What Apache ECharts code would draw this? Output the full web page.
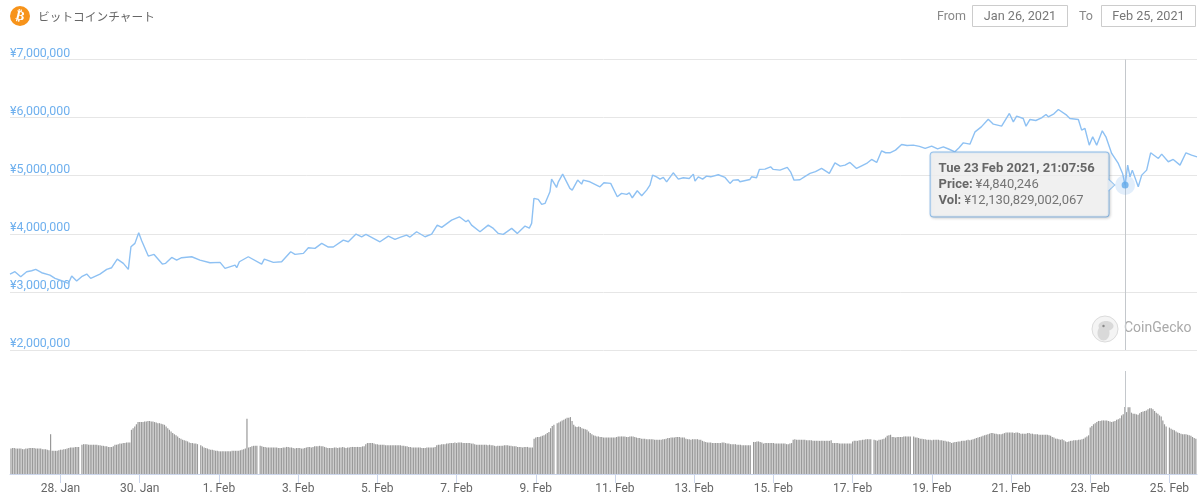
<!DOCTYPE html>
<html><head><meta charset="utf-8">
<style>html,body{margin:0;padding:0;background:#fff}#c{width:1200px;height:502px}</style>
<script src="https://cdn.jsdelivr.net/npm/echarts@6/dist/echarts.min.js"></script>
</head><body><div id="c"></div>
<script>
// hours since 26 Jan 2021 00:00 UTC
const priceHours = [17.4,20.4,23.9,27.5,30.5,33.0,36.6,41.6,44.7,48.7,52.8,54.8,57.8,60.8,63.9,66.3,71.9,76.0,79.0,82.4,86.1,89.1,90.7,93.1,95.4,97.2,101.2,104.7,109.7,111.7,115.4,118.4,121.4,127.5,132.5,138.6,144.7,147.7,153.8,154.8,156.4,161.8,169.9,171.5,177.0,182.0,187.5,190.1,195.2,198.2,202.2,206.3,210.3,213.3,219.4,222.4,227.1,230.5,233.1,241.6,246.7,250.7,
253.7,257.7,259.8,263.8,268.9,272.9,276.3,279.0,285.0,289.7,293.7,295.1,297.1,302.2,307.2,310.3,313.3,316.3,321.4,324.8,329.5,332.1,333.5,334.9,337.5,339.6,341.6,344.6,345.6,348.6,349.7,352.3,355.7,356.7,358.1,361.4,363.8,364.8,368.8,374.9,377.3,381.4,385.4,388.0,391.1,392.7,394.5,397.5,400.2,403.2,405.2,406.8,409.2,411.3,413.3,415.3,419.3,422.4,425.4,429.0,431.5,432.5,434.5,437.1,439.5,442.0,446.6,450.7,453.7,455.7,458.7,459.7,465.8,466.8,469.8,471.5,474.9,478.3,479.9,484.0,488.4,490.4,492.5,
496.1,499.0,502.2,505.5,509.2,513.9,517.3,520.5,523.4,526.4,530.4,533.5,536.5,539.5,542.6,545.6,548.0,550.6,554.0,557.7,561.0,564.8,568.5,572.0,575.9,579.5,583.0,586.5,590.0,592.5,595.1,599.1,602.2,606.0,610.2,613.3,618.3,623.0,625.4,627.4,631.4,633.1,635.5,639.0,642.5,645.2,646.6,650.0,652.7,657.7,659.7,664.8,666.8,668.8,671.4,673.5,675.9,679.3,681.5,685.0,689.0,691.6,693.13,694.7,696.1,697.5,701.1,703.2,706.2,708.6,713.3,715.3,719.3,722.3,726.4,730.0,733.4,736.7];
// thousands of yen
const priceThousands = [3307,3347,3261,3347,3364,3387,3330,3290,3233,3192,3147,3273,3187,3261,3307,3233,3307,3387,3416,3565,3491,3387,3777,3835,4018,3880,3617,3645,3479,3491,3594,3548,3588,3605,3548,3502,3508,3405,3462,3416,3519,3605,3479,3565,3508,3519,3691,3645,3663,3760,3749,3835,3772,3772,3892,3863,3995,3949,3989,3863,3961,3903,
3938,3978,3944,4035,3949,3995,4150,4110,4236,4293,4207,4236,4150,4035,4150,4093,4007,3990,4093,4007,4133,4098,4179,4609,4592,4506,4523,4723,4941,4798,4895,5027,4838,4781,4752,4924,4855,4924,4895,4809,4878,4867,4637,4695,4678,4706,4620,4741,4655,4752,4838,5010,4981,4941,4970,4895,5050,4941,4964,4953,5027,4907,4981,4941,4993,4981,5016,4970,4867,4924,4930,4895,4935,4981,4964,5108,5113,5153,5108,5096,5142,5067,4924,
4930,4985,5039,5070,5125,5039,5222,5165,5182,5228,5125,5170,5211,5280,5228,5429,5395,5394,5440,5538,5520,5526,5505,5470,5509,5462,5497,5455,5411,5480,5566,5543,5755,5840,5973,5887,5853,6071,5927,6025,5985,5853,5968,5950,5996,6054,6013,6065,6140,6042,5985,5968,5784,5813,5526,5670,5526,5773,5670,5383,5211,5039,4840.246,5182,4981,5096,4809,5010,5096,5394,5297,5371,5240,5280,5182,5394,5354,5325];
// hourly traded volume in trillions of yen, one row per day from 26 Jan; null marks a visible gap
const volumeRows = [
[null,null,null,null,null,null,null,null,null,null,null,null,null,null,null,null,null,null,4.6,4.7,4.7,4.6,4.6,4.6],
[4.6,4.5,4.5,4.6,4.6,4.7,4.7,4.7,4.7,4.6,4.6,4.6,4.6,4.5,4.5,4.5,4.4,4.3,7.2,4.2,4.2,4.2,4.2,4.3],
[4.4,4.4,4.5,4.5,4.6,4.7,4.8,4.8,4.8,4.9,4.9,4.9,null,5.3,5.4,5.4,5.4,5.3,5.3,5.3,5.3,5.3,5.3,5.2],
[5.2,5.1,5.1,5.0,5.0,4.9,4.9,4.9,5.0,5.3,5.3,5.4,5.5,5.5,5.6,5.6,5.7,5.7,5.7,8.0,8.3,8.6,9.0,9.4],
[9.4,9.4,9.4,9.5,9.5,9.6,9.6,9.5,9.5,9.4,9.3,9.2,9.2,9.1,9.0,8.9,8.6,8.3,8.0,7.7,7.4,7.2,7.0,6.8],
[6.5,6.4,6.2,6.1,6.0,5.9,5.7,5.6,5.6,5.5,5.5,5.4,null,5.2,5.0,4.8,4.7,4.6,4.5,4.4,4.4,4.3,4.2,4.2],
[4.1,4.1,4.1,4.1,4.1,4.1,4.1,4.1,4.2,4.2,4.2,4.2,4.2,4.3,4.4,4.5,4.6,10.0,4.8,4.9,5.0,5.1,5.1,5.1],
[null,5.1,5.0,4.9,4.9,4.8,4.8,4.8,4.8,4.8,4.8,4.8,4.7,4.7,4.7,4.8,4.8,4.9,4.9,4.8,4.8,4.7,4.6,4.7],
[4.7,4.7,4.6,4.6,4.7,4.8,4.9,4.9,4.8,4.9,5.0,5.0,5.0,5.1,5.0,5.0,4.9,4.8,4.7,4.7,4.7,4.7,4.8,4.8],
[4.7,4.8,4.8,4.9,4.8,4.7,4.8,4.8,4.9,4.9,4.9,4.9,4.9,4.9,4.9,5.0,5.0,5.4,5.6,5.6,5.6,5.6,5.5,5.4],
[5.4,5.3,5.3,5.3,5.3,5.2,5.2,5.2,5.2,5.2,5.2,5.2,5.2,5.2,5.2,5.1,5.1,5.0,5.0,4.9,4.9,4.8,4.8,4.8],
[4.8,4.8,4.8,4.7,4.7,4.7,4.8,4.8,4.8,4.8,4.8,4.9,5.2,5.3,5.3,5.4,5.4,5.4,5.5,5.5,5.6,5.6,5.6,5.7],
[5.6,5.7,5.7,5.7,5.6,5.6,5.6,5.6,5.6,5.5,5.5,5.4,5.3,5.3,5.3,5.3,5.3,5.3,5.3,5.2,5.3,5.2,5.2,5.1],
[5.0,5.1,5.1,5.1,5.1,5.2,5.2,5.2,5.1,5.1,5.0,5.0,5.0,4.9,4.9,4.9,4.8,4.9,4.9,4.9,4.8,4.8,4.8,6.4],
[6.6,6.7,6.7,6.8,6.9,7.0,7.2,7.4,7.6,8.3,8.7,8.9,null,9.2,9.3,9.5,9.7,9.8,10.0,10.2,10.2,10.3,9.6,8.9],
[8.6,8.5,8.6,8.5,8.3,8.2,8.1,8.0,7.7,7.4,7.2,7.0,6.9,6.8,6.8,6.7,6.7,6.6,6.6,6.6,6.6,6.6,6.6,6.6],
[6.6,6.7,6.8,6.8,6.8,6.8,6.8,6.7,6.7,6.8,6.8,6.8,6.7,6.6,6.5,6.5,6.4,6.4,6.4,6.3,6.3,6.3,6.3,6.3],
[6.2,6.2,6.2,6.2,6.2,6.3,6.3,6.4,6.5,6.5,6.6,6.6,6.6,6.7,6.7,6.7,6.6,6.6,6.6,6.4,6.3,6.3,6.2,6.3],
[6.3,6.3,6.3,6.2,6.2,6.0,5.9,5.8,5.7,5.7,5.7,5.6,5.6,5.6,5.6,5.6,5.6,5.7,5.7,5.6,5.5,5.5,5.4,5.4],
[5.4,5.4,5.3,5.3,5.3,5.2,5.2,5.2,5.2,5.2,5.2,null,5.8,5.8,5.9,5.9,5.8,5.7,5.5,5.6,5.6,5.6,5.6,5.6],
[5.6,5.5,5.5,5.5,5.5,5.5,5.5,5.5,5.4,5.4,5.5,5.6,6.2,6.3,6.2,6.2,6.2,6.2,6.2,6.2,6.1,6.1,6.1,6.1],
[6.0,6.0,6.0,6.0,6.0,6.0,6.0,6.0,6.0,6.0,6.0,6.1,5.6,5.6,5.6,5.6,5.5,5.5,5.5,5.5,5.5,5.5,5.5,5.5],
[5.9,6.0,6.0,6.0,6.1,6.1,6.2,6.2,6.3,6.3,6.3,6.3,null,6.2,6.1,6.0,6.2,6.2,6.3,6.4,6.6,6.9,7.0,7.1],
[6.7,6.7,6.6,6.7,6.7,6.7,6.7,6.8,6.8,6.8,6.8,6.8,null,6.8,6.6,6.6,6.5,6.4,6.4,6.3,6.3,6.2,6.2,6.2],
[6.1,6.2,6.2,6.2,6.2,6.1,6.1,6.0,6.0,5.9,5.9,5.8,5.6,5.7,5.8,5.8,5.9,5.9,6.0,6.0,6.0,6.1,6.2,6.1],
[6.2,6.3,6.4,6.5,6.6,6.7,6.8,6.9,7.0,7.1,7.2,7.3,7.4,7.4,7.3,7.3,7.2,7.2,7.2,7.3,7.4,7.5,7.5,7.5],
[7.5,7.5,7.4,7.5,7.5,7.4,7.3,7.3,7.3,7.3,7.4,7.4,7.3,7.3,7.2,7.2,7.2,7.1,7.1,7.1,7.1,7.1,7.1,7.0],
[6.9,6.7,6.6,6.4,6.4,6.3,6.2,6.3,6.1,5.9,5.8,5.9,6.0,6.0,6.1,6.1,6.1,6.2,6.2,6.3,6.4,6.6,6.8,7.0],
[8.4,8.7,9.0,9.2,9.4,9.6,9.6,9.7,9.7,9.7,9.7,9.6,9.5,9.4,9.5,9.6,9.8,9.9,10.1,10.6,10.8,12.13,11.2,12.1],
[12.1,11.1,10.9,10.9,10.8,10.7,11.0,11.2,11.3,11.4,11.5,11.7,11.9,11.9,11.7,11.4,11.1,10.9,10.6,10.4,9.7,9.0,8.6,null],
[8.4,8.2,8.0,7.9,7.7,7.5,7.4,7.3,7.2,7.2,7.2,7.1,7.0,6.9,6.7,6.5,6.4]
];
const tickDates = ['2021-01-28','2021-01-30','2021-02-01','2021-02-03','2021-02-05','2021-02-07','2021-02-09','2021-02-11','2021-02-13','2021-02-15','2021-02-17','2021-02-19','2021-02-21','2021-02-23','2021-02-25'];
const tickLabels = ['28. Jan','30. Jan','1. Feb','3. Feb','5. Feb','7. Feb','9. Feb','11. Feb','13. Feb','15. Feb','17. Feb','19. Feb','21. Feb','23. Feb','25. Feb'];
const hoverTitle = 'Tue 23 Feb 2021, 21:07:56';
const hoverPriceText = '¥4,840,246';
const hoverVolText = '¥12,130,829,002,067';
const hoverHour = 693.13, hoverPrice = 4840246;

const T0 = Date.UTC(2021,0,26);
const hourToTime = h => T0 + h*3600000;
const xMin = hourToTime(17.4), xMax = hourToTime(736.7);
const tickTimes = tickDates.map(d => Date.parse(d+'T00:00:00Z'));
const priceData = priceHours.map((h,i)=>[hourToTime(h), priceThousands[i]*1000]);
const volumeData = [];
volumeRows.forEach((row,d)=>row.forEach((v,i)=>{ if(v!==null) volumeData.push([hourToTime(d*24+i), v]); }));
const hoverPoint = [[hourToTime(hoverHour), hoverPrice]];
const FONT = 'Roboto, "Liberation Sans", sans-serif';
const BLUE = '#7cb5ec';

const chart = echarts.init(document.getElementById('c'), null, {renderer:'canvas'});
const overlay = (z, extra) => Object.assign({type:'scatter', xAxisIndex:0, yAxisIndex:0, data:hoverPoint, silent:true, z, animation:false, clip:false}, extra);
chart.setOption({
  animation:false,
  backgroundColor:'#fff',
  textStyle:{fontFamily:FONT},
  grid:[
    {left:10,right:3,top:59.5,height:290.5,containLabel:false},
    {left:10,right:3,top:371,height:103,containLabel:false}
  ],
  xAxis:[
    {type:'value',gridIndex:0,min:xMin,max:xMax,show:false,splitLine:{show:false}},
    {type:'value',gridIndex:1,min:xMin,max:xMax,
      axisLine:{show:true,onZero:false,lineStyle:{color:'#ccd6eb',width:1}},
      axisTick:{show:true,length:9,lineStyle:{color:'#ccd6eb',width:1},customValues:tickTimes},
      splitLine:{show:false},minorTick:{show:false},
      axisLabel:{color:'#666',fontSize:12,fontFamily:FONT,margin:9,hideOverlap:false,customValues:tickTimes,
        formatter:v=>tickLabels[tickTimes.indexOf(v)]}}
  ],
  yAxis:[
    {type:'value',gridIndex:0,min:2000000,max:7000000,interval:1000000,
      axisLine:{show:false},axisTick:{show:false},
      splitLine:{show:true,lineStyle:{color:'#e6e6e6',width:1}},
      axisLabel:{inside:true,margin:0,verticalAlign:'bottom',color:'#6fb0ee',fontSize:12.4,fontFamily:FONT,
        showMinLabel:true,showMaxLabel:true,
        formatter:v=>'¥'+Number(v).toLocaleString('en-US')}},
    {type:'value',gridIndex:1,min:0,max:18.64,show:false,splitLine:{show:false}}
  ],
  series:[
    {name:'Price',type:'line',xAxisIndex:0,yAxisIndex:0,data:priceData,showSymbol:false,symbol:'none',z:2,silent:true,
      lineStyle:{color:'#8ec1f3',width:1.4},
      markLine:{silent:true,z:1,symbol:'none',animation:false,label:{show:false},
        lineStyle:{color:'#c4c8cc',width:1,type:'solid'},data:[{xAxis:hourToTime(hoverHour)}]}},
    {name:'Volume',type:'bar',xAxisIndex:1,yAxisIndex:1,data:volumeData,barWidth:1.2,silent:true,z:2,
      itemStyle:{color:'#999'},
      markLine:{silent:true,symbol:'none',animation:false,label:{show:false},
        lineStyle:{color:'#c4c8cc',width:1,type:'solid'},data:[{xAxis:hourToTime(hoverHour)}]}},
    overlay(3,{symbol:'circle',symbolSize:20,itemStyle:{color:'rgba(124,181,236,0.28)'}}),
    overlay(4,{symbol:'circle',symbolSize:7,itemStyle:{color:'#62a9ea'}}),
    overlay(5,{symbol:'circle',symbolSize:1,itemStyle:{color:'rgba(0,0,0,0)'},
      label:{show:true,position:[-194,-32],align:'left',verticalAlign:'top',
        formatter:'{b|'+hoverTitle+'}\n{b|Price:} {n|'+hoverPriceText+'}\n{b|Vol:} {n|'+hoverVolText+'}',
        backgroundColor:'#f5f5f5',borderColor:BLUE,borderWidth:1,borderRadius:3,
        padding:[8,8,8,8],width:162,shadowColor:'rgba(0,0,0,0.18)',shadowBlur:3,shadowOffsetX:1,shadowOffsetY:1,
        rich:{b:{fontWeight:'bold',color:'#444',fontSize:13,lineHeight:16,fontFamily:FONT},
              n:{color:'#555',fontSize:13,lineHeight:16,fontFamily:FONT}}}}),
    overlay(6,{symbol:'triangle',symbolRotate:-90,symbolSize:[13,7],symbolOffset:[-13,0],
      itemStyle:{color:BLUE}}),
    overlay(7,{symbol:'triangle',symbolRotate:-90,symbolSize:[11,6],symbolOffset:[-14,0],
      itemStyle:{color:'#f5f5f5'}})
  ],
  graphic:[
    {type:'circle',shape:{cx:20,cy:16,r:10},style:{fill:'#f7931a'},silent:true},
    {type:'text',x:20,y:16.5,rotation:-0.24,originX:0,originY:0,style:{text:'₿',fill:'#fff',font:'bold 13px "DejaVu Sans"',align:'center',verticalAlign:'middle'},silent:true},
    {type:'text',x:38,y:17,style:{text:'ビットコインチャート',fill:'#666',font:'11.7px "Noto Sans CJK JP"',align:'left',verticalAlign:'middle'},silent:true},
    {type:'text',x:937,y:16.5,style:{text:'From',fill:'#888',font:'12.5px '+FONT,align:'left',verticalAlign:'middle'},silent:true},
    {type:'rect',shape:{x:972.5,y:5.5,width:95,height:21},style:{fill:'#fff',stroke:'#ccc',lineWidth:1},silent:true},
    {type:'text',x:1020,y:16.5,style:{text:'Jan 26, 2021',fill:'#777',font:'12.7px '+FONT,align:'center',verticalAlign:'middle'},silent:true},
    {type:'text',x:1079,y:16.5,style:{text:'To',fill:'#888',font:'12.5px '+FONT,align:'left',verticalAlign:'middle'},silent:true},
    {type:'rect',shape:{x:1101.5,y:5.5,width:94,height:21},style:{fill:'#fff',stroke:'#ccc',lineWidth:1},silent:true},
    {type:'text',x:1148.5,y:16.5,style:{text:'Feb 25, 2021',fill:'#777',font:'12.7px '+FONT,align:'center',verticalAlign:'middle'},silent:true},
    {type:'circle',shape:{cx:1105,cy:329,r:13},style:{fill:'#f4f4f4',stroke:'#dcdcdc',lineWidth:1},silent:true},
    {type:'ellipse',shape:{cx:1106,cy:326,rx:7.5,ry:5},style:{fill:'#d9d9d9'},silent:true},
    {type:'ellipse',shape:{cx:1103.5,cy:333,rx:6,ry:7.5},style:{fill:'#d9d9d9'},silent:true},
    {type:'circle',shape:{cx:1103.5,cy:326,r:1.2},style:{fill:'#888'},silent:true},
    {type:'text',x:1124,y:328.5,style:{text:'CoinGecko',fill:'#aaa',font:'14px '+FONT,align:'left',verticalAlign:'middle'},silent:true}
  ]
});
</script></body></html>
